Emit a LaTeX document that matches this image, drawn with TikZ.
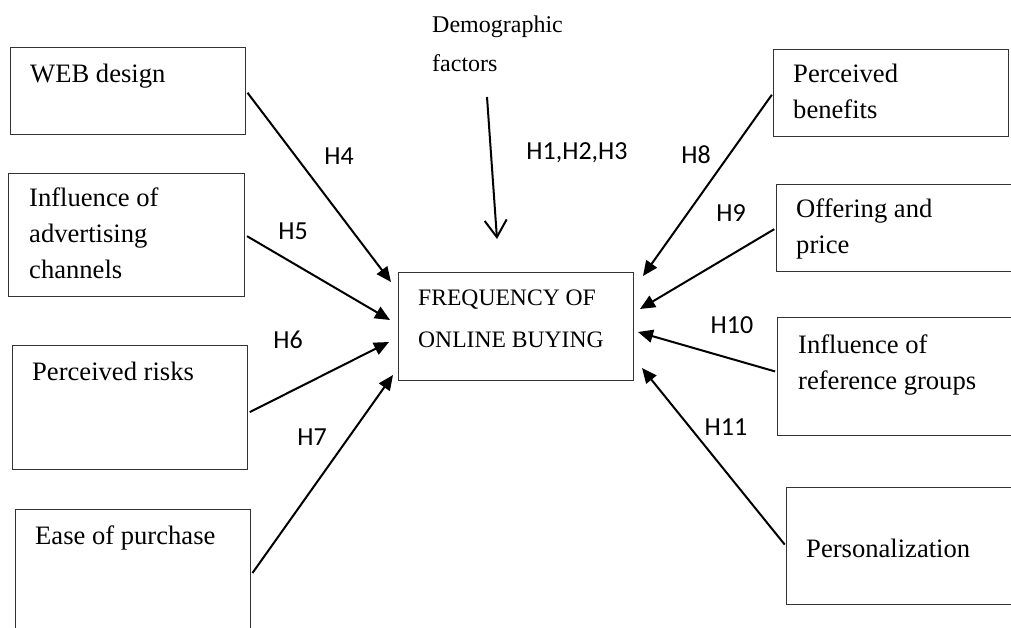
\documentclass[tikz,border=0pt]{standalone}
\usepackage{fontspec}
\setmainfont{Liberation Serif}
\newfontfamily\labelfont{Carlito}
\usetikzlibrary{arrows.meta}
\newcommand{\boxlines}[1]{\begin{tabular}[t]{@{}l@{}}#1\end{tabular}}
\begin{document}
\begin{tikzpicture}[x=1pt,y=-1pt,
  factor/.style={draw=black!80, line width=1.3pt, anchor=north west, inner sep=0pt},
  boxtext/.style={anchor=base west, inner sep=0pt, font=\fontsize{26.6}{36}\selectfont},
  hyp/.style={inner sep=0pt, font=\labelfont\fontsize{26}{30}\selectfont},
  link/.style={line width=2pt, -{Triangle[length=15pt,width=13pt]}, shorten <=2pt},
  demolink/.style={line width=2pt, -{Straight Barb[length=17pt,width=22pt,line width=2pt]}}]
\useasboundingbox (0,0) rectangle (1011,628);
\clip (0,0) rectangle (1011,628);

% central outcome
\node[factor, minimum width=235pt, minimum height=108pt] (freq) at (398,272) {};
\node[boxtext, font=\fontsize{23.6}{42}\selectfont] (freqT) at (418,305) {\boxlines{FREQUENCY OF\\ONLINE BUYING}};

% demographic factors
\node[boxtext, font=\fontsize{24}{39}\selectfont] (demoT) at (432,33) {\boxlines{Demographic\\factors}};
\coordinate (demoS) at (487,97);
\coordinate (demoE) at (497,239);

% left-hand factors
\node[factor, minimum width=235pt, minimum height=87pt] (web) at (10,47) {};
\node[boxtext] (webT) at (30,83) {WEB design};
\node[factor, minimum width=236pt, minimum height=123pt] (adv) at (8,173) {};
\node[boxtext] (advT) at (29,207) {\boxlines{Influence of\\advertising\\channels}};
\node[factor, minimum width=235pt, minimum height=124pt] (risk) at (12,345) {};
\node[boxtext] (riskT) at (32,380) {Perceived risks};
\node[factor, minimum width=235pt, minimum height=130pt] (ease) at (15,509) {};
\node[boxtext] (easeT) at (35,544) {Ease of purchase};

% right-hand factors
\node[factor, minimum width=235pt, minimum height=87pt] (ben) at (773,49) {};
\node[boxtext] (benT) at (793,83) {\boxlines{Perceived\\benefits}};
\node[factor, minimum width=240pt, minimum height=87pt] (offer) at (776,184) {};
\node[boxtext] (offerT) at (796,218) {\boxlines{Offering and\\price}};
\node[factor, minimum width=240pt, minimum height=118pt] (ref) at (777,317) {};
\node[boxtext] (refT) at (798,353) {\boxlines{Influence of\\reference groups}};
\node[factor, minimum width=240pt, minimum height=117pt] (pers) at (786,487) {};
\node[boxtext] (persT) at (806,557) {Personalization};

% arrow tips next to the outcome box
\coordinate (t4) at (391,282);
\coordinate (t5) at (390,320);
\coordinate (t6) at (389,342);
\coordinate (t7) at (393,375);
\coordinate (t8) at (643,276);
\coordinate (t9) at (640,309);
\coordinate (t10) at (638,332);
\coordinate (t11) at (642,368);
\coordinate (s6) at (248,413);
\coordinate (s10) at (777,372);

% hypothesised effects
\draw[demolink] (demoS) -- (demoE);
\draw[link] (web.east) -- (t4);
\draw[link] (adv.east) -- (t5);
\draw[link] (s6) -- (t6);
\draw[link] (ease.east) -- (t7);
\draw[link] (ben.west) -- (t8);
\draw[link] (offer.west) -- (t9);
\draw[link] (s10) -- (t10);
\draw[link] (pers.west) -- (t11);

% hypothesis labels
\node[hyp] (h123) at (577,153) {H1,H2,H3};
\node[hyp] (h4) at (339,156) {H4};
\node[hyp] (h5) at (293,231) {H5};
\node[hyp] (h6) at (288,340) {H6};
\node[hyp] (h7) at (312,437) {H7};
\node[hyp] (h8) at (696,155) {H8};
\node[hyp] (h9) at (731,213) {H9};
\node[hyp] (h10) at (732,325) {H10};
\node[hyp] (h11) at (726,427) {H11};
\end{tikzpicture}
\end{document}
